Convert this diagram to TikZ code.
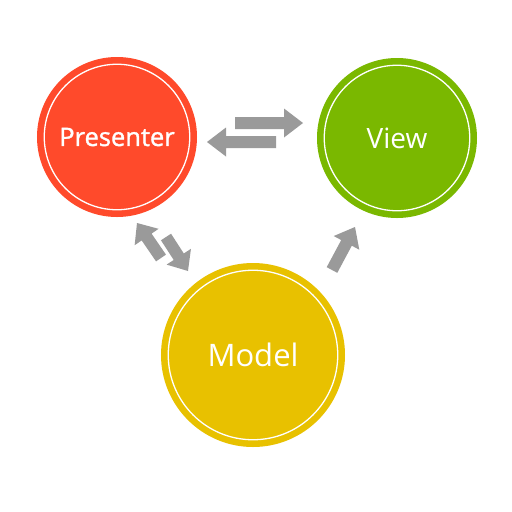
\documentclass[tikz,border=0pt]{standalone}
\usepackage{fontspec}
\setmainfont{Open Sans}
\newfontfamily\presfont[FakeBold=1.3]{Open Sans}
\usetikzlibrary{calc}
\definecolor{cpres}{HTML}{FF4A2B}
\definecolor{cview}{HTML}{7AB800}
\definecolor{cmodel}{HTML}{E8C100}
\definecolor{arrowgray}{HTML}{9A9A9A}
\tikzset{
  mvpcircle/.style={circle, fill=#1, draw=white, line width=1.3pt,
    preaction={draw=#1, line width=14.5pt}, text=white, inner sep=0pt},
}
% block arrow from tail #1 to tip #2, head length #3
\newcommand{\blockarrow}[3]{%
  \coordinate (ba-h) at ($(#2)!#3!(#1)$);
  \fill[arrowgray]
    ($(#1)!6pt!90:(#2)$) -- ($(ba-h)!6pt!-90:(#1)$) -- ($(ba-h)!14.5pt!-90:(#1)$)
    -- (#2) -- ($(ba-h)!14.5pt!90:(#1)$) -- ($(ba-h)!6pt!90:(#1)$)
    -- ($(#1)!6pt!-90:(#2)$) -- cycle;
}
\begin{document}
\begin{tikzpicture}[x=1pt,y=-1pt]
  \useasboundingbox[fill=white] (0,0) rectangle (512,512);
  \node[mvpcircle=cpres, minimum size=145.5pt, font=\presfont\fontsize{25.5}{28}\selectfont] (presenter) at (117,137) {Presenter};
  \node[mvpcircle=cview, minimum size=145.5pt, font=\fontsize{28}{32}\selectfont] (view) at (397,138) {View};
  \node[mvpcircle=cmodel, minimum size=169.5pt, font=\fontsize{31}{36}\selectfont] (model) at (253,355) {Model};
  \coordinate (a1t) at (235,123); \coordinate (a1h) at (303,123);
  \coordinate (a2t) at (276,142); \coordinate (a2h) at (207,142);
  \coordinate (a3t) at (161,258); \coordinate (a3h) at (137,223);
  \coordinate (a4t) at (166,237); \coordinate (a4h) at (188,271);
  \coordinate (a5t) at (332,270); \coordinate (a5h) at (355,227);
  \blockarrow{a1t}{a1h}{19pt}
  \blockarrow{a2t}{a2h}{19pt}
  \blockarrow{a3t}{a3h}{17pt}
  \blockarrow{a4t}{a4h}{17pt}
  \blockarrow{a5t}{a5h}{18pt}
\end{tikzpicture}
\end{document}
